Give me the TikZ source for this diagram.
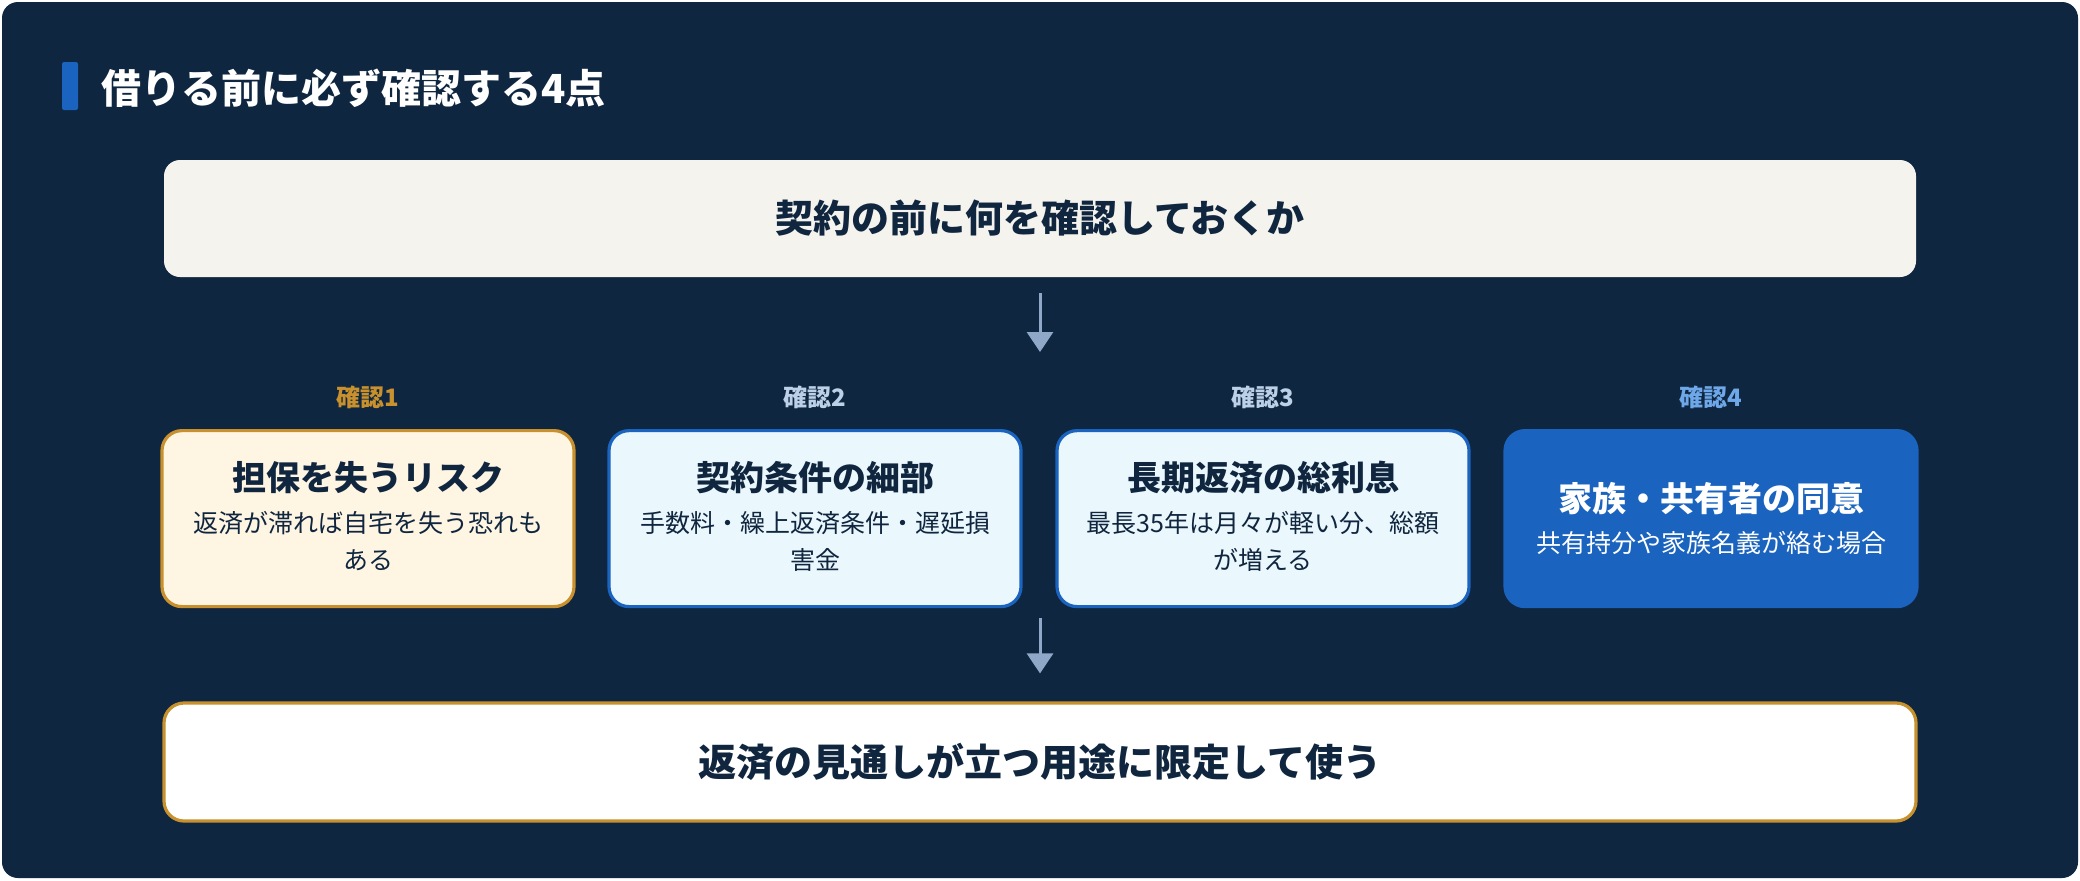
\documentclass[tikz,border=0pt]{standalone}
\usepackage{fontspec}
\setmainfont{Noto Sans CJK JP}
\usetikzlibrary{positioning,arrows.meta}
\definecolor{navy}{HTML}{0F2640}
\definecolor{ink}{HTML}{10263F}
\definecolor{cream}{HTML}{F5F3EE}
\definecolor{gold}{HTML}{C8912E}
\definecolor{paleyellow}{HTML}{FFF5E3}
\definecolor{paleblue}{HTML}{EAF7FD}
\definecolor{midblue}{HTML}{1A63BE}
\definecolor{arrowgray}{HTML}{8FA8C8}
\definecolor{labelgray}{HTML}{BCD0E8}
\definecolor{labelblue}{HTML}{6FA8E8}
\tikzset{
  card/.style={rounded corners=10pt, line width=1.6pt, minimum width=206pt, minimum height=88pt, anchor=north},
  tag/.style={font=\bfseries\fontsize{12}{14}\selectfont},
  head/.style={font=\bfseries\fontsize{17}{20}\selectfont, text=ink},
  sub/.style={font=\fontsize{12.5}{18.5}\selectfont, text=ink},
  flow/.style={arrowgray, line width=1.5pt, -{Triangle[width=13pt,length=10pt]}}
}
\begin{document}
\begin{tikzpicture}[x=0.5pt, y=-0.5pt]
\useasboundingbox (0,0) rectangle (2080,880);
\fill [white] (0,0) rectangle (2080,880);
\fill [navy, rounded corners=8pt] (2,2) rectangle (2078,878);
% title
\fill [midblue, rounded corners=1pt] (62,62) rectangle (78,110);
\node (title) [anchor=west, text=white, font=\bfseries\fontsize{20}{24}\selectfont] at (94,88) {借りる前に必ず確認する4点};
% top question
\node (question) [fill=cream, rounded corners=8pt, minimum width=876pt, minimum height=58.5pt, text=ink, font=\bfseries\fontsize{19}{22}\selectfont] at (1040,218.5) {契約の前に何を確認しておくか};
\coordinate (q start) at (1040,293);
\coordinate (q end) at (1040,352);
\draw [flow] (q start) -- (q end);
% the four checks
\node (tag1) [tag, text=gold] at (368,397) {確認1};
\node (tag2) [tag, text=labelgray] at (815,397) {確認2};
\node (tag3) [tag, text=labelgray] at (1263,397) {確認3};
\node (tag4) [tag, text=labelblue] at (1711,397) {確認4};
\node (risk) [card, draw=gold, fill=paleyellow] at (368,429) {};
\node (terms) [card, draw=midblue, fill=paleblue] at (815,429) {};
\node (interest) [card, draw=midblue, fill=paleblue] at (1263,429) {};
\node (consent) [card, draw=midblue, fill=midblue] at (1711,429) {};
\node (risk head) [head] at (368,478) {担保を失うリスク};
\node (risk text) [sub, align=center, anchor=north] at (368,504) {返済が滞れば自宅を失う恐れも\\ある};
\node (terms head) [head] at (815,478) {契約条件の細部};
\node (terms text) [sub, align=center, anchor=north] at (815,504) {手数料・繰上返済条件・遅延損\\害金};
\node (interest head) [head] at (1263,478) {長期返済の総利息};
\node (interest text) [sub, align=center, anchor=north] at (1263,504) {最長35年は月々が軽い分、総額\\が増える};
\node (consent head) [head, text=white] at (1711,499) {家族・共有者の同意};
\node (consent text) [sub, text=white] at (1711,543) {共有持分や家族名義が絡む場合};
% conclusion
\node (usage) [draw=gold, line width=1.6pt, fill=white, rounded corners=10pt, minimum width=876pt, minimum height=59pt, text=ink, font=\bfseries\fontsize{19}{22}\selectfont] at (1040,762) {返済の見通しが立つ用途に限定して使う};
\coordinate (u start) at (1040,618);
\draw [flow] (u start) -- ([yshift=14pt]usage.north);
\end{tikzpicture}
\end{document}
